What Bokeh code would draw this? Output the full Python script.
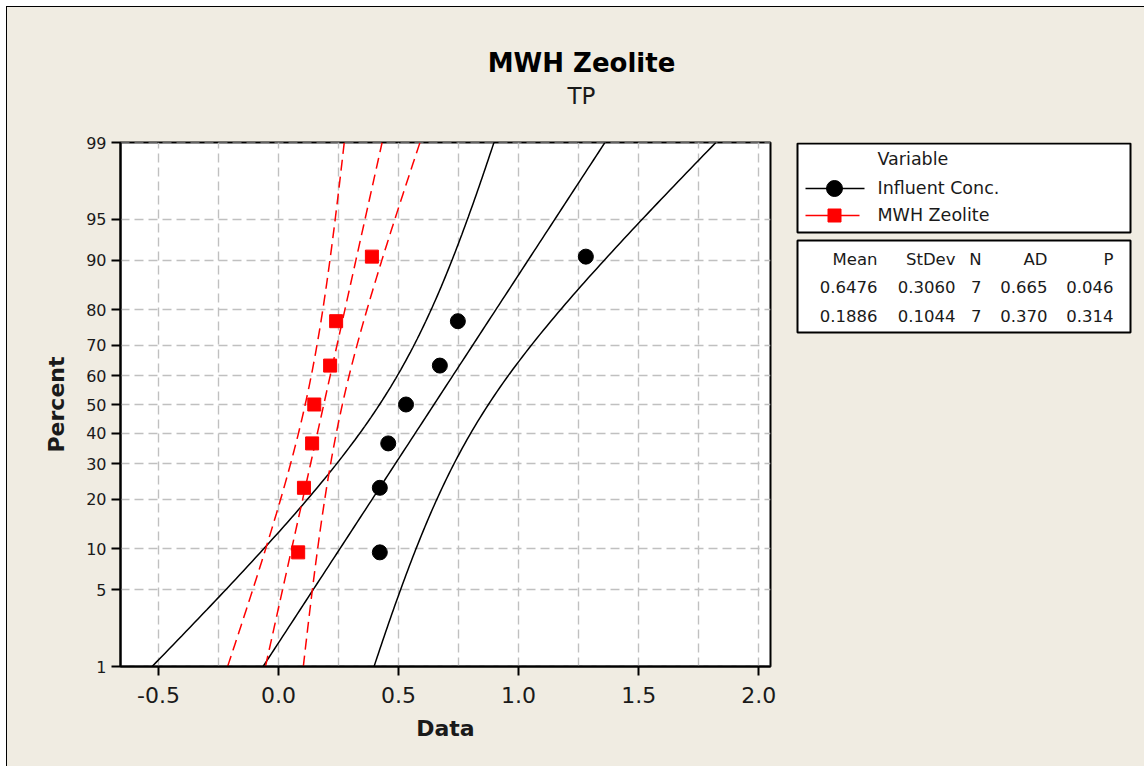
from statistics import NormalDist
from bokeh.plotting import figure
from bokeh.layouts import column, row
from bokeh.models import (FixedTicker, CustomJSTickFormatter, PrintfTickFormatter, Range1d)
from bokeh.core.properties import value
from bokeh.embed import file_html
from bokeh.resources import INLINE

FONT = "DejaVu Sans"
BG = "#F0ECE2"
TXT = "#1a1a1a"

# ---------------- data ----------------
percent_ticks = [1, 5, 10, 20, 30, 40, 50, 60, 70, 80, 90, 95, 99]
x_tick_values = [-0.5, 0.0, 0.5, 1.0, 1.5, 2.0]
x_grid_values = [-0.5, -0.25, 0.0, 0.25, 0.5, 0.75, 1.0, 1.25, 1.5, 1.75, 2.0]
variables = ["Influent Conc.", "MWH Zeolite"]
influent_conc = [0.422, 0.422, 0.457, 0.531, 0.672, 0.747, 1.280]
mwh_zeolite = [0.082, 0.106, 0.140, 0.149, 0.215, 0.240, 0.389]
means = [0.6476, 0.1886]
stdevs = [0.3060, 0.1044]
counts = [7, 7]
ad_values = [0.665, 0.370]
p_values = [0.046, 0.314]
stat_headers = ["Mean", "StDev", "N", "AD", "P"]
title_text = "MWH Zeolite"
subtitle_text = "TP"
legend_title = "Variable"

nd = NormalDist()
z_ticks = [nd.inv_cdf(v / 100.0) for v in percent_ticks]
z_lo, z_hi = z_ticks[0], z_ticks[-1]

# main panel geometry (px)
MAIN_W, MAIN_H = 782, 649
B_LEFT, B_RIGHT, B_TOP, B_BOTTOM = 113, 19, 25, 100


def panel_fig(w, h, top=0, bottom=0):
    f = figure(width=w, height=h, output_backend="svg", toolbar_location=None,
               x_range=Range1d(0, w), y_range=Range1d(h - bottom, top),
               min_border_left=0, min_border_right=0, min_border_top=top,
               min_border_bottom=bottom,
               x_axis_location=None, y_axis_location=None,
               background_fill_color=BG, border_fill_color=BG, outline_line_color=None)
    f.xgrid.visible = False
    f.ygrid.visible = False
    return f


# ---------------- header ----------------
head = panel_fig(1137, 110)
head.text(x=[574], y=[55], text=[title_text], text_font=value(FONT),
          text_font_style="bold", text_font_size=value("26px"), text_color="black",
          text_align="center", text_baseline="middle")
head.text(x=[574], y=[88.5], text=[subtitle_text], text_font=value(FONT),
          text_font_size=value("23px"), text_color=TXT,
          text_align="center", text_baseline="middle")

# ---------------- main probability plot ----------------
p = figure(width=MAIN_W, height=MAIN_H, output_backend="svg", toolbar_location=None,
           x_range=Range1d(-0.658, 2.049), y_range=Range1d(z_lo - 1e-9, z_hi + 1e-9),
           min_border_left=B_LEFT, min_border_right=B_RIGHT, min_border_top=B_TOP,
           min_border_bottom=B_BOTTOM, background_fill_color="white",
           border_fill_color=BG, outline_line_color="black", outline_line_width=2)

p.xgrid.ticker = FixedTicker(ticks=x_grid_values)
p.ygrid.ticker = FixedTicker(ticks=z_ticks)
for g in (p.xgrid[0], p.ygrid[0]):
    g.grid_line_color = "#C0C0C0"
    g.grid_line_width = 1.4
    g.grid_line_dash = "9 5"

p.xaxis.ticker = FixedTicker(ticks=x_tick_values)
p.xaxis.formatter = PrintfTickFormatter(format="%.1f")
p.yaxis.ticker = FixedTicker(ticks=z_ticks)
p.yaxis.formatter = CustomJSTickFormatter(
    args=dict(zs=z_ticks, labels=[str(v) for v in percent_ticks]),
    code="for (let i = 0; i < zs.length; i++) { if (Math.abs(zs[i] - tick) < 1e-6) return labels[i]; } return '';")
for ax in (p.xaxis[0], p.yaxis[0]):
    ax.axis_line_color = "black"
    ax.axis_line_width = 2
    ax.major_tick_line_color = "black"
    ax.major_tick_line_width = 2
    ax.major_tick_out = 9
    ax.major_tick_in = 0
    ax.minor_tick_line_color = None
    ax.major_label_text_font = FONT
    ax.major_label_text_color = TXT
    ax.axis_label_text_font = FONT
    ax.axis_label_text_font_style = "bold"
    ax.axis_label_text_color = TXT
    ax.axis_label_text_font_size = "22px"
p.xaxis.major_label_text_font_size = "22px"
p.yaxis.major_label_text_font_size = "16px"
p.xaxis.major_label_standoff = 11
p.yaxis.major_label_standoff = 5
p.xaxis.axis_label = "Data"
p.yaxis.axis_label = "Percent"
p.xaxis.axis_label_standoff = 10
p.yaxis.axis_label_standoff = 14

n_curve = 121
zc = [z_lo + (z_hi - z_lo) * i / (n_curve - 1) for i in range(n_curve)]
series = [influent_conc, mwh_zeolite]
colors = ["black", "red"]
dashes = ["solid", "11 6"]
for k in range(2):
    m, s, n = means[k], stdevs[k], counts[k]
    fit = [m + s * z for z in zc]
    half = [1.96 * s * (1.0 / n + z * z / (2.0 * (n - 1))) ** 0.5 for z in zc]
    lower = [f - h for f, h in zip(fit, half)]
    upper = [f + h for f, h in zip(fit, half)]
    for xs in (lower, fit, upper):
        p.line(xs, zc, line_color=colors[k], line_width=1.5, line_dash=dashes[k])
    vals = sorted(series[k])
    zp = [nd.inv_cdf((i + 1 - 0.3) / (n + 0.4)) for i in range(n)]
    if k == 0:
        p.scatter(vals, zp, marker="circle", size=15, fill_color="black", line_color="black")
    else:
        p.scatter(vals, zp, marker="square", size=13, fill_color="red", line_color="red")

# ---------------- legend + statistics panel ----------------
side = panel_fig(354, MAIN_H, top=B_TOP, bottom=B_BOTTOM)
# legend box
side.quad(left=[8], right=[341], top=[26], bottom=[115], fill_color="white",
          line_color="black", line_width=2)
side.text(x=[88], y=[41], text=[legend_title], text_font=value(FONT),
          text_font_size=value("17.5px"), text_color=TXT, text_align="left",
          text_baseline="middle")
leg_y = [71, 98]
leg_len = [75, 70]
for k in range(2):
    side.line([16, leg_len[k]], [leg_y[k], leg_y[k]], line_color=colors[k], line_width=1.5)
    side.text(x=[88], y=[leg_y[k] - 0.5], text=[variables[k]], text_font=value(FONT),
              text_font_size=value("17.5px"), text_color=TXT, text_align="left",
              text_baseline="middle")
side.scatter([45], [leg_y[0]], marker="circle", size=16, fill_color="black", line_color="black")
side.scatter([45], [leg_y[1]], marker="square", size=13, fill_color="red", line_color="red")

# statistics table
side.quad(left=[8], right=[341], top=[123], bottom=[215], fill_color="white",
          line_color="black", line_width=2)
col_right = [88, 166, 192, 258, 324]
row_y = [142.3, 169.7, 198]
rows = [stat_headers]
for k in range(2):
    rows.append([f"{means[k]:.4f}", f"{stdevs[k]:.4f}", str(counts[k]),
                 f"{ad_values[k]:.3f}", f"{p_values[k]:.3f}"])
tx, ty, tt = [], [], []
for ri, r in enumerate(rows):
    for ci, t in enumerate(r):
        tx.append(col_right[ci])
        ty.append(row_y[ri])
        tt.append(t)
side.text(x=tx, y=ty, text=tt, text_font=value(FONT), text_font_size=value("16.5px"),
          text_color=TXT, text_align="right", text_baseline="middle")

layout = column(head, row(p, side, styles={"background-color": BG}), margin=(6, 0, 0, 6),
                styles={"border-top": "1px solid black", "border-left": "1px solid black",
                        "background-color": BG})

open("out.html", "w").write(file_html(layout, INLINE))
